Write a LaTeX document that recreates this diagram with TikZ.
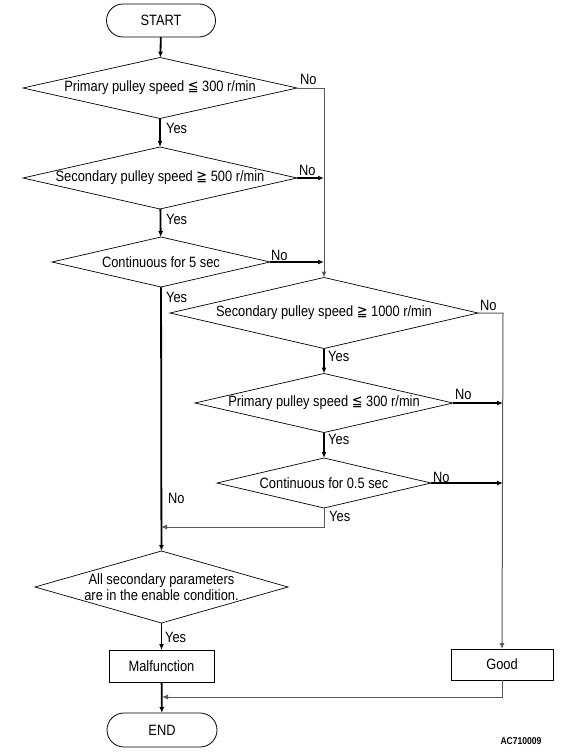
\documentclass[tikz,border=0pt]{standalone}
\usepackage{fontspec}
\setmainfont{Liberation Sans}[FakeStretch=0.86]
\newfontfamily\symfnt{DejaVu Sans}[FakeStretch=0.86]
\usetikzlibrary{arrows.meta, shapes.geometric, shapes.misc, positioning}

\newcommand{\lesseq}{{\symfnt ≦}}
\newcommand{\greatereq}{{\symfnt ≧}}

\begin{document}
\begin{tikzpicture}[x=1bp, y=-1bp, font=\fontsize{15}{16.5}\selectfont,
  arro/.style = {-{Latex[length=6bp,width=5bp]}}]

\tikzstyle{terminal} = [draw, rounded rectangle, line width=0.8bp, minimum width=109bp, minimum height=33bp, inner sep=0, outer sep=0]
\tikzstyle{decision} = [draw, diamond, line width=0.7bp, inner sep=0, outer sep=0, align=center]
\tikzstyle{proc} = [draw, rectangle, line width=0.8bp, inner sep=0, outer sep=0]
\tikzstyle{main} = [line width=1.8bp, black]
\tikzstyle{side} = [line width=1bp, black!65]
\tikzstyle{lbl} = [inner sep=0, anchor=west]

\useasboundingbox (0,0) rectangle (569,754);

% start
\node[terminal] at (161,20.5) (start) {START};
% left column
\node[decision, aspect=4.49, minimum width=274bp, minimum height=61bp] at (160,88) (d1) {Primary pulley speed \lesseq{} 300 r/min};
\node[decision, aspect=4.42, minimum width=274bp, minimum height=62bp] at (160,178) (d2) {Secondary pulley speed \greatereq{} 500 r/min};
\node[decision, aspect=4.36, minimum width=218bp, minimum height=50bp] at (161,262) (d3) {Continuous for 5 sec};
% right column
\node[decision, aspect=4.34, minimum width=308bp, minimum height=71bp] at (324,313) (d4) {Secondary pulley speed \greatereq{} 1000 r/min};
\node[decision, aspect=4.37, minimum width=258bp, minimum height=59bp] at (324,403) (d5) {Primary pulley speed \lesseq{} 300 r/min};
\node[decision, aspect=4.28, minimum width=214bp, minimum height=50bp] at (324,483) (d6) {Continuous for 0.5 sec};
% bottom
\node[decision, aspect=3.51, minimum width=253bp, minimum height=72bp] at (161.5,587) (d7) {All secondary parameters\\are in the enable condition.};
\node[proc, minimum width=105bp, minimum height=32bp] at (161.5,666) (mal) {Malfunction};
\node[proc, minimum width=102bp, minimum height=31bp] at (502,664.5) (good) {Good};
\node[terminal, minimum width=110bp, minimum height=34bp] at (162,730) (end) {END};
\node[font=\fontsize{10}{12}\selectfont\bfseries] at (521,741) (code) {AC710009};

% junctions
\coordinate (j1) at (324,88);
\coordinate (j2) at (324,178);
\coordinate (j3) at (324,262);
\coordinate (j4) at (503,313);
\coordinate (j5) at (503,403);
\coordinate (j6) at (503,483);
\coordinate (j7) at (324,527);
\coordinate (j8) at (161,527);
\coordinate (j9) at (502,697);
\coordinate (j10) at (162,697);

% connections
\draw[main, arro] (start) -- (d1);
\draw[main, arro] (d1) -- (d2);
\draw[main, arro] (d2) -- (d3);
\draw[main, arro] (d3) -- (d7);
\draw[side, arro] (d1.east) -- (j1) -- (d4.north);
\draw[main, arro] (d2.east) -- (j2);
\draw[main, arro] (d3.east) -- (j3);
\draw[main, arro] (d4) -- (d5);
\draw[main, arro] (d5) -- (d6);
\draw[side, arro] (d4.east) -- (j4) -- (good.north);
\draw[main, arro] (d5.east) -- (j5);
\draw[main, arro] (d6.east) -- (j6);
\draw[side, arro] (d6.south) -- (j7) -- (j8);
\draw[main, arro] (d7) -- (mal);
\draw[main, arro] (mal) -- (end);
\draw[side, arro] (good.south) -- (j9) -- (j10);

% labels
\node[lbl] at (166,128) (y1) {Yes};
\node[lbl] at (166,219) (y2) {Yes};
\node[lbl] at (166,297) (y3) {Yes};
\node[lbl] at (328,356) (y4) {Yes};
\node[lbl] at (328,439) (y5) {Yes};
\node[lbl] at (329,516) (y6) {Yes};
\node[lbl] at (165,637) (y7) {Yes};
\node[lbl] at (300,79) (n1) {No};
\node[lbl] at (299,170) (n2) {No};
\node[lbl] at (271,255) (n3) {No};
\node[lbl] at (480,305) (n4) {No};
\node[lbl] at (455,394) (n5) {No};
\node[lbl] at (433,477) (n6) {No};
\node[lbl] at (168,498) (n7) {No};
\end{tikzpicture}
\end{document}
